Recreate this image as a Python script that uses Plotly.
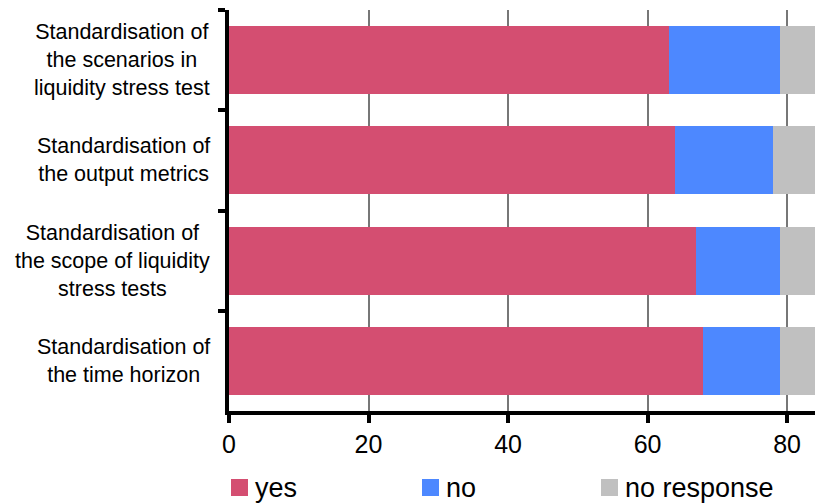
import plotly.graph_objects as go

# Survey responses per proposed standardisation measure
categories = [
    "Standardisation of<br>the scenarios in<br>liquidity stress test",
    "Standardisation of<br>the output metrics",
    "Standardisation of<br>the scope of liquidity<br>stress tests",
    "Standardisation of<br>the time horizon",
]
yes_counts = [63, 64, 67, 68]
no_counts = [16, 14, 12, 11]
no_response_counts = [5, 6, 5, 5]

series_names = ["yes", "no", "no response"]
series_colors = ["#D44E71", "#4D88FF", "#C0C0C0"]
series_values = [yes_counts, no_counts, no_response_counts]

x_ticks = [0, 20, 40, 60, 80]

FONT = "Liberation Sans, Arial, Helvetica, sans-serif"
W, H = 815, 503
M_L, M_R, M_T, M_B = 229, 0, 10, 92
PW, PH = W - M_L - M_R, H - M_T - M_B

fig = go.Figure()
for name, color, vals in zip(series_names, series_colors, series_values):
    fig.add_trace(go.Bar(
        y=categories, x=vals, name=name, orientation="h",
        marker=dict(color=color, line=dict(width=0)),
        showlegend=False, hoverinfo="x+name",
    ))

# Category labels, centred blocks right-aligned to the axis
annotations = []
for cat in categories:
    annotations.append(dict(
        x=(212 - M_L) / PW, xref="paper", xanchor="right",
        y=cat, yref="y", yanchor="middle",
        text=cat, showarrow=False, align="center",
        font=dict(family=FONT, size=21.5, color="#000000"),
    ))

# Legend row below the axis
shapes = []
legend_left_px = [231, 422, 601]
sq = 17
legend_center_py = 487.5
for name, color, lx in zip(series_names, series_colors, legend_left_px):
    shapes.append(dict(
        type="rect", xref="paper", yref="paper",
        x0=(lx - M_L) / PW, x1=(lx + sq - M_L) / PW,
        y0=(M_T + PH - (legend_center_py - sq / 2)) / PH,
        y1=(M_T + PH - (legend_center_py + sq / 2)) / PH,
        fillcolor=color, line=dict(width=0),
    ))
    annotations.append(dict(
        x=(lx + sq + 5 - M_L) / PW, xref="paper", xanchor="left",
        y=(M_T + PH - legend_center_py) / PH, yref="paper", yanchor="middle",
        text=name, showarrow=False,
        font=dict(family=FONT, size=27, color="#000000"),
    ))

fig.update_layout(
    width=W, height=H,
    margin=dict(l=M_L, r=M_R, t=M_T, b=M_B, pad=0),
    barmode="stack", bargap=0.32,
    plot_bgcolor="#FFFFFF", paper_bgcolor="#FFFFFF",
    font=dict(family=FONT, color="#000000"),
    annotations=annotations, shapes=shapes,
    xaxis=dict(
        range=[0, 84], tickmode="array", tickvals=x_ticks,
        ticktext=[str(v) for v in x_ticks],
        showgrid=True, gridcolor="#777777", gridwidth=1.5,
        zeroline=False, showline=True, linecolor="#000000", linewidth=4,
        ticks="outside", ticklen=8, tickwidth=4, tickcolor="#000000",
        tickfont=dict(family=FONT, size=25, color="#000000"),
        fixedrange=True,
    ),
    yaxis=dict(
        type="category", categoryorder="array", categoryarray=categories,
        range=[3.5, -0.5], tickson="boundaries",
        showticklabels=False, showgrid=False, zeroline=False,
        showline=True, linecolor="#000000", linewidth=4,
        ticks="outside", ticklen=7, tickwidth=4, tickcolor="#000000",
        fixedrange=True,
    ),
)

fig.write_html("out.html", config={"displayModeBar": False})
